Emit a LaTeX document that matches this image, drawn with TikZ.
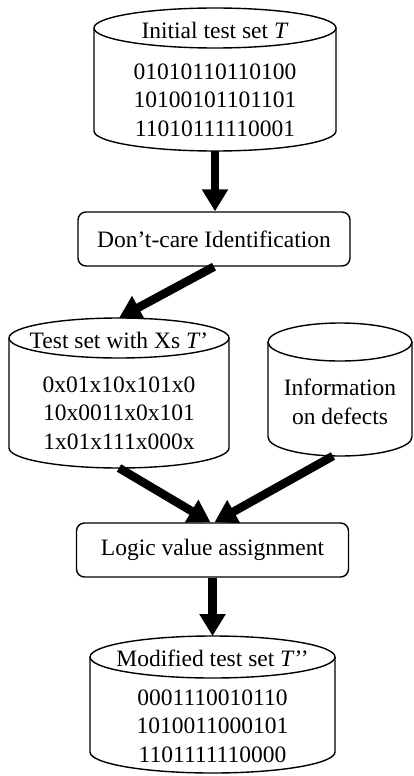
\documentclass[tikz,border=0pt]{standalone}
\usepackage{fontspec}
\setmainfont{Liberation Serif}
\usetikzlibrary{arrows.meta}
% cylinder: cx, top-ellipse centre y, bottom-ellipse centre y, rx, ry, name
\newcommand\dbdrum[6]{%
  \draw[cyl] (#1-#4,#2) -- (#1-#4,#3)
     arc[start angle=180,end angle=360,x radius=#4*1pt,y radius=#5*1pt]
     -- (#1+#4,#2);
  \draw[cyl] (#1,#2) ellipse[x radius=#4*1pt,y radius=#5*1pt];
  \node[area, minimum width=2*#4*1pt, minimum height=(#3-#2+2*#5)*1pt]
     (#6) at (#1,{(#2+#3)/2}) {};
}
\begin{document}
\begin{tikzpicture}[x=1pt,y=-1pt,
  cyl/.style={line width=1.4pt},
  txt/.style={font=\fontsize{23.5}{28.5}\selectfont, inner sep=0pt, align=center},
  procbox/.style={draw, line width=1.4pt, rounded corners=8pt,
     minimum width=272pt, minimum height=54pt, inner sep=0pt,
     font=\fontsize{23.5}{28.5}\selectfont},
  flow/.style={line width=8.5pt, -{Triangle[width=25pt,length=22pt]}},
  area/.style={inner sep=0pt, outer sep=0pt, draw=none}
]
\useasboundingbox (0,0) rectangle (414,776);

% initial test set
\dbdrum{215}{28}{131}{121}{20}{initset}
\node[txt] (inithead) at (215,30) {Initial test set \textit{T}};
\node[txt] (initbits) at (215,100) {01010110110100\\10100101101101\\11010111110001};

% don't care identification
\node[procbox] (dcid) at (214,239) {Don't-care Identification};

% test set with Xs
\dbdrum{119}{338}{448}{110}{20}{xset}
\node[txt] (xhead) at (119,340) {Test set with Xs \textit{T}'};
\node[txt] (xbits) at (119,413) {0x01x10x101x0\\10x0011x0x101\\1x01x111x000x};

% information on defects
\dbdrum{340}{342}{437}{72}{19}{defects}
\node[txt] (deftext) at (340,402) {Information\\on defects};

% logic value assignment
\node[procbox] (lva) at (212.5,550) {Logic value assignment};

% modified test set
\dbdrum{212.5}{657}{752}{122.5}{21}{modset}
\node[txt] (modhead) at (212.5,658) {Modified test set \textit{T}'{}'};
\node[txt] (modbits) at (212.5,726) {0001110010110\\1010011000101\\1101111110000};

% connectors
\draw[flow] (initset.south) -- (initset.south |- dcid.north);
\draw[flow] (dcid.south) -- (xset.north);
\draw[flow] (xset.south) -- ([xshift=-2pt]lva.north);
\draw[flow] ([xshift=-7pt]defects.south) -- ([xshift=2pt]lva.north);
\draw[flow] (lva.south) -- (lva.south |- modset.north);
\end{tikzpicture}
\end{document}
